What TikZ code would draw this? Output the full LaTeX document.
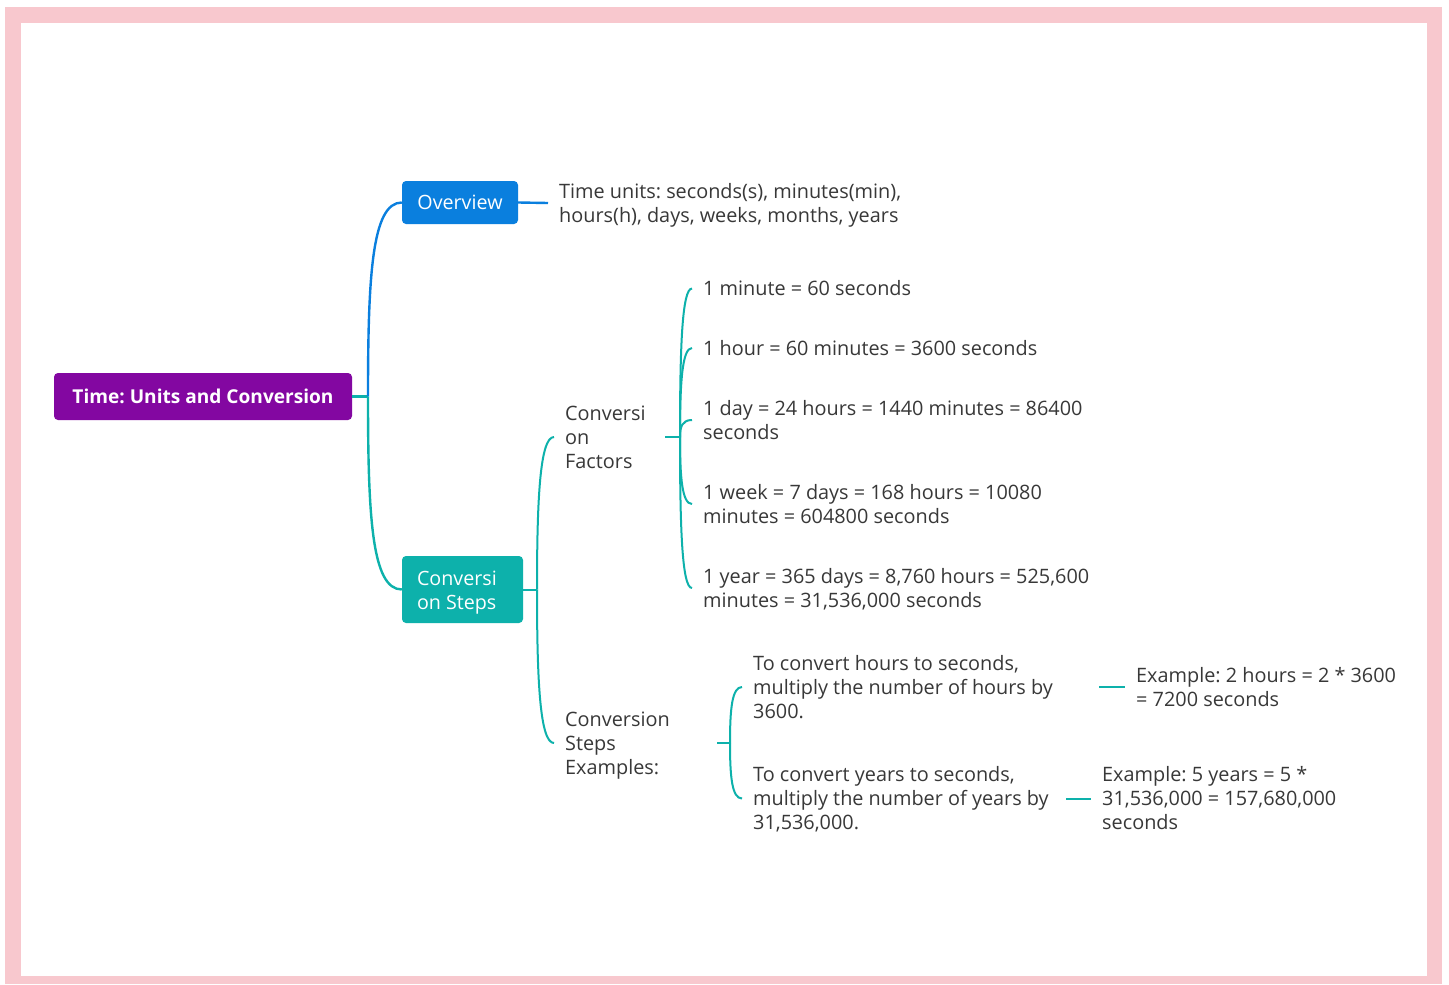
\documentclass[tikz,border=0pt]{standalone}
\usepackage{fontspec}
\setmainfont{Open Sans}
\definecolor{pinkb}{HTML}{F8C8CE}
\definecolor{txtc}{HTML}{383838}
\definecolor{tealc}{HTML}{0DB1AB}
\definecolor{bluec}{HTML}{0A7FDE}
\definecolor{purpc}{HTML}{8307A1}
\newcommand\tfont{\fontsize{19.85}{24}\selectfont\frenchspacing}
\newcommand\bxfont{\fontsize{19.7}{24}\selectfont\frenchspacing}
\newcommand\rfont{\fontsize{19.1}{24}\selectfont\bfseries\frenchspacing}
\begin{document}
\begin{tikzpicture}[x=1pt,y=-1pt,
 txt/.style={font=\tfont, text=txtc, inner xsep=11pt, inner ysep=0pt, anchor=base west, align=flush left},
 wide/.style={text width=400pt},
 box/.style={rounded corners=4pt, inner sep=0pt, text=white, font=\bxfont},
 tline/.style={draw=tealc, line width=2pt},
 tmain/.style={draw=tealc, line width=2.4pt},
 bline/.style={draw=bluec, line width=2.4pt}]
\useasboundingbox (0,0) rectangle (1449,985);
\fill[pinkb] (5,7) rectangle (1442,984);
\fill[white] (21,23) rectangle (1427,976);

\node[box, fill=purpc, minimum width=298pt, minimum height=47pt, font=\rfont] (root) at (203,396.5) {Time: Units and Conversion};
\node[box, fill=bluec, minimum width=116pt, minimum height=43pt] (ov) at (460,202.5) {Overview};
\node[box, fill=tealc, minimum height=67pt, inner xsep=15pt, text width=91pt, text height=15pt, text depth=24pt, align=flush left] (cs) at (462.5,589.5) {Conversi\\on Steps};

\node[txt, wide] (ovt) at (548,198) {Time units: seconds(s), minutes(min),\\hours(h), days, weeks, months, years};
\node[txt, text width=89pt] (cf) at (554,420) {Conversi\\on\\Factors};
\node[txt, text width=141pt] (cx) at (554,726) {Conversion\\Steps\\Examples:};
\node[txt] (f1) at (692,295.5) {1 minute = 60 seconds};
\node[txt] (f2) at (692,355) {1 hour = 60 minutes = 3600 seconds};
\node[txt, wide] (f3) at (692,415) {1 day = 24 hours = 1440 minutes = 86400\\seconds};
\node[txt, wide] (f4) at (692,499) {1 week = 7 days = 168 hours = 10080\\minutes = 604800 seconds};
\node[txt, wide] (f5) at (692,583) {1 year = 365 days = 8,760 hours = 525,600\\minutes = 31,536,000 seconds};
\node[txt, text width=335pt] (hr) at (742,670) {To convert hours to seconds,\\multiply the number of hours by\\3600.};
\node[txt, text width=302pt] (yr) at (742,781.5) {To convert years to seconds,\\multiply the number of years by\\31,536,000.};
\node[txt, wide] (ea) at (1125,682) {Example: 2 hours = 2 * 3600\\= 7200 seconds};
\node[txt, wide] (eb) at (1091,781.5) {Example: 5 years = 5 *\\31,536,000 = 157,680,000\\seconds};

\coordinate (j0) at (368,396.5);
\coordinate (j1) at (537,589.5);
\coordinate (j2) at (680,437);
\coordinate (j3) at (730,743);

\draw[tmain] (root.east) -- (j0);
\draw[bline] (j0) .. controls +(0,-120) and +(-30,0) .. (ov.west);
\draw[tmain] (j0) .. controls +(0,120) and +(-30,0) .. (cs.west);
\draw[bline] (ov.east) -- ([yshift=-5pt]ovt.base west);

\draw[tline] (cs.east) -- (j1);
\draw[tline] (j1) .. controls +(0,-91) and +(-14,0) .. ([yshift=-17pt]cf.base west);
\draw[tline] (j1) .. controls +(0,92) and +(-14,0) .. ([yshift=-17pt]cx.base west);

\draw[tline] ([yshift=-17pt]cf.base east) -- (j2);
\draw[tline] (j2) .. controls +(0,-89) and +(-10,0) .. ([yshift=7pt]f1.base west);
\draw[tline] (j2) .. controls +(0,-53) and +(-10,0) .. ([yshift=7pt]f2.base west);
\draw[tline] (j2) .. controls +(0,-10) and +(-10,0) .. ([yshift=-5pt]f3.base west);
\draw[tline] (j2) .. controls +(0,40) and +(-10,0) .. ([yshift=-5pt]f4.base west);
\draw[tline] (j2) .. controls +(0,91) and +(-10,0) .. ([yshift=-5pt]f5.base west);

\draw[tline] ([yshift=-17pt]cx.base east) -- (j3);
\draw[tline] (j3) .. controls +(0,-34) and +(-10,0) .. ([yshift=-17pt]hr.base west);
\draw[tline] (j3) .. controls +(0,34) and +(-10,0) .. ([yshift=-17pt]yr.base west);

\draw[tline] ([yshift=-17pt]hr.base east) -- ([yshift=-5pt]ea.base west);
\draw[tline] ([yshift=-17pt]yr.base east) -- ([yshift=-17pt]eb.base west);
\end{tikzpicture}
\end{document}
